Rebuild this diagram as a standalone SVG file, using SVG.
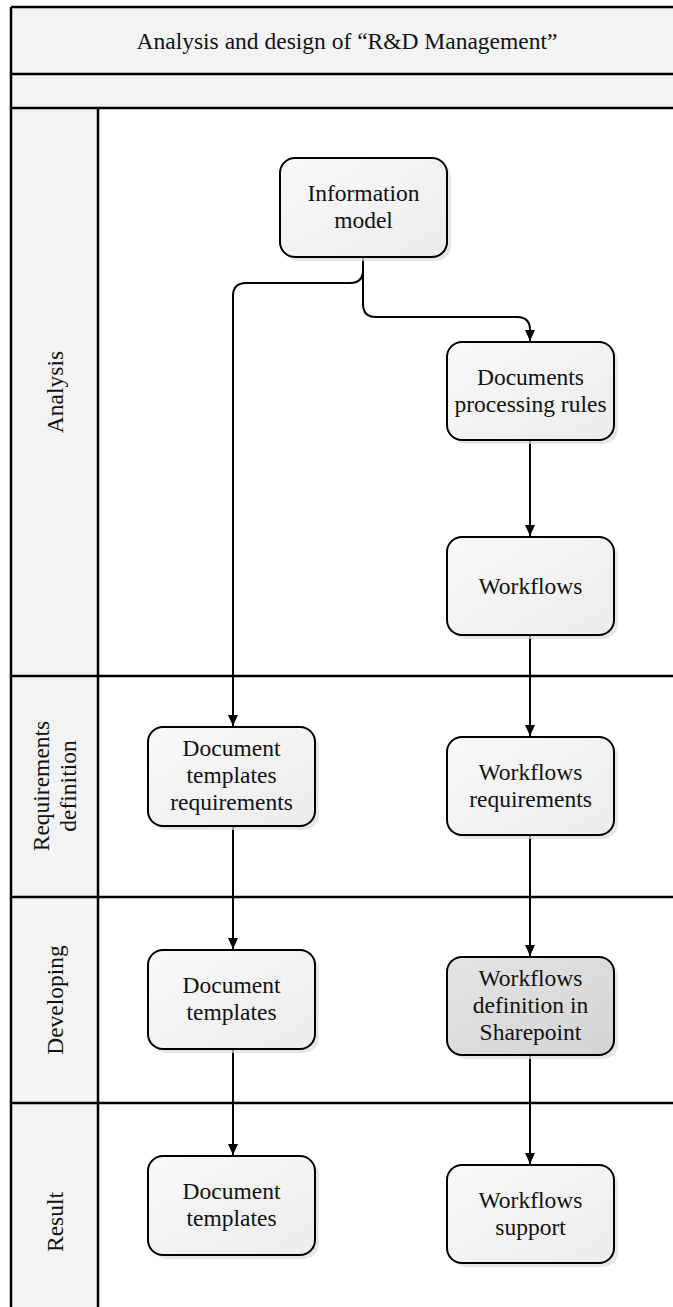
<svg xmlns="http://www.w3.org/2000/svg" width="673" height="1307" viewBox="0 0 673 1307">
<defs>
<linearGradient id="g" x1="0" y1="0" x2="1" y2="1"><stop offset="0" stop-color="#f9f9f9"/><stop offset="1" stop-color="#ececec"/></linearGradient>
<linearGradient id="gd" x1="0" y1="0" x2="1" y2="1"><stop offset="0" stop-color="#e4e4e4"/><stop offset="1" stop-color="#d4d4d4"/></linearGradient>
<marker id="ah" markerWidth="12" markerHeight="12" refX="11" refY="5" orient="auto" markerUnits="userSpaceOnUse"><path d="M0,0 L11,5 L0,10 Z" fill="#000"/></marker>
</defs>
<style>
.band{fill:#f3f3f3}
.fr{stroke:#000;stroke-width:2.5;fill:none}
.box{fill:url(#g);stroke:#000;stroke-width:2}
.dark{fill:url(#gd)}
.sh{fill:#dcdcdc;opacity:.7}
.t{font-family:"Liberation Serif","Times New Roman",serif;font-size:23.5px;fill:#111;text-anchor:middle}
.c{stroke:#000;stroke-width:2;fill:none}
</style>
<rect x="0" y="0" width="673" height="1307" fill="#fff"/>
<g id="frame">
<rect class="band" x="11" y="7" width="662" height="101"/>
<rect class="band" x="11" y="108" width="87" height="1199"/>
<line class="fr" x1="11" y1="7" x2="673" y2="7"/>
<line class="fr" x1="11" y1="7" x2="11" y2="1307"/>
<line class="fr" x1="11" y1="74" x2="673" y2="74"/>
<line class="fr" x1="11" y1="108" x2="673" y2="108"/>
<line class="fr" x1="98" y1="108" x2="98" y2="1307"/>
<line class="fr" x1="11" y1="676" x2="673" y2="676"/>
<line class="fr" x1="11" y1="897" x2="673" y2="897"/>
<line class="fr" x1="11" y1="1103" x2="673" y2="1103"/>
<text class="t" x="347" y="49">Analysis and design of “R&amp;D Management”</text>
</g>
<g id="lane-analysis"><text class="t" transform="translate(63,392) rotate(-90)">Analysis</text></g>
<g id="lane-requirements"><text class="t" transform="translate(49,786) rotate(-90)">Requirements</text><text class="t" transform="translate(76,786) rotate(-90)">definition</text></g>
<g id="lane-developing"><text class="t" transform="translate(63,1000) rotate(-90)">Developing</text></g>
<g id="lane-result"><text class="t" transform="translate(63,1222) rotate(-90)">Result</text></g>
<g id="connectors">
<path class="c" d="M363,258 V270 Q363,283 350,283 H246 Q233,283 233,296 V726" marker-end="url(#ah)"/>
<path class="c" d="M363,270 V304 Q363,317 376,317 H517 Q530,317 530,330 V341" marker-end="url(#ah)"/>
<path class="c" d="M530,440 V536" marker-end="url(#ah)"/>
<path class="c" d="M530,635 V736" marker-end="url(#ah)"/>
<path class="c" d="M530,835 V956" marker-end="url(#ah)"/>
<path class="c" d="M530,1056 V1164" marker-end="url(#ah)"/>
<path class="c" d="M233,826 V949" marker-end="url(#ah)"/>
<path class="c" d="M233,1049 V1155" marker-end="url(#ah)"/>
</g>
<g id="n-info"><rect class="sh" x="284" y="162" width="167" height="99" rx="15"/><rect class="box" x="280" y="158" width="167" height="99" rx="15"/><text class="t" x="363.5" y="201">Information</text><text class="t" x="363.5" y="228">model</text></g>
<g id="n-docrules"><rect class="sh" x="451" y="346" width="167" height="98" rx="15"/><rect class="box" x="447" y="342" width="167" height="98" rx="15"/><text class="t" x="530.5" y="385">Documents</text><text class="t" x="530.5" y="412">processing rules</text></g>
<g id="n-workflows"><rect class="sh" x="451" y="541" width="167" height="98" rx="15"/><rect class="box" x="447" y="537" width="167" height="98" rx="15"/><text class="t" x="530.5" y="594">Workflows</text></g>
<g id="n-dtreq"><rect class="sh" x="152" y="731" width="167" height="99" rx="15"/><rect class="box" x="148" y="727" width="167" height="99" rx="15"/><text class="t" x="231.5" y="756">Document</text><text class="t" x="231.5" y="783">templates</text><text class="t" x="231.5" y="810">requirements</text></g>
<g id="n-wfreq"><rect class="sh" x="451" y="741" width="167" height="98" rx="15"/><rect class="box" x="447" y="737" width="167" height="98" rx="15"/><text class="t" x="530.5" y="780">Workflows</text><text class="t" x="530.5" y="807">requirements</text></g>
<g id="n-dt-dev"><rect class="sh" x="152" y="954" width="167" height="99" rx="15"/><rect class="box" x="148" y="950" width="167" height="99" rx="15"/><text class="t" x="231.5" y="993">Document</text><text class="t" x="231.5" y="1020">templates</text></g>
<g id="n-wf-sp"><rect class="sh" x="451" y="961" width="167" height="98" rx="15"/><rect class="box dark" x="447" y="957" width="167" height="98" rx="15"/><text class="t" x="530.5" y="986">Workflows</text><text class="t" x="530.5" y="1013">definition in</text><text class="t" x="530.5" y="1040">Sharepoint</text></g>
<g id="n-dt-res"><rect class="sh" x="152" y="1160" width="167" height="99" rx="15"/><rect class="box" x="148" y="1156" width="167" height="99" rx="15"/><text class="t" x="231.5" y="1199">Document</text><text class="t" x="231.5" y="1226">templates</text></g>
<g id="n-wf-sup"><rect class="sh" x="451" y="1169" width="167" height="98" rx="15"/><rect class="box" x="447" y="1165" width="167" height="98" rx="15"/><text class="t" x="530.5" y="1208">Workflows</text><text class="t" x="530.5" y="1235">support</text></g>
</svg>
